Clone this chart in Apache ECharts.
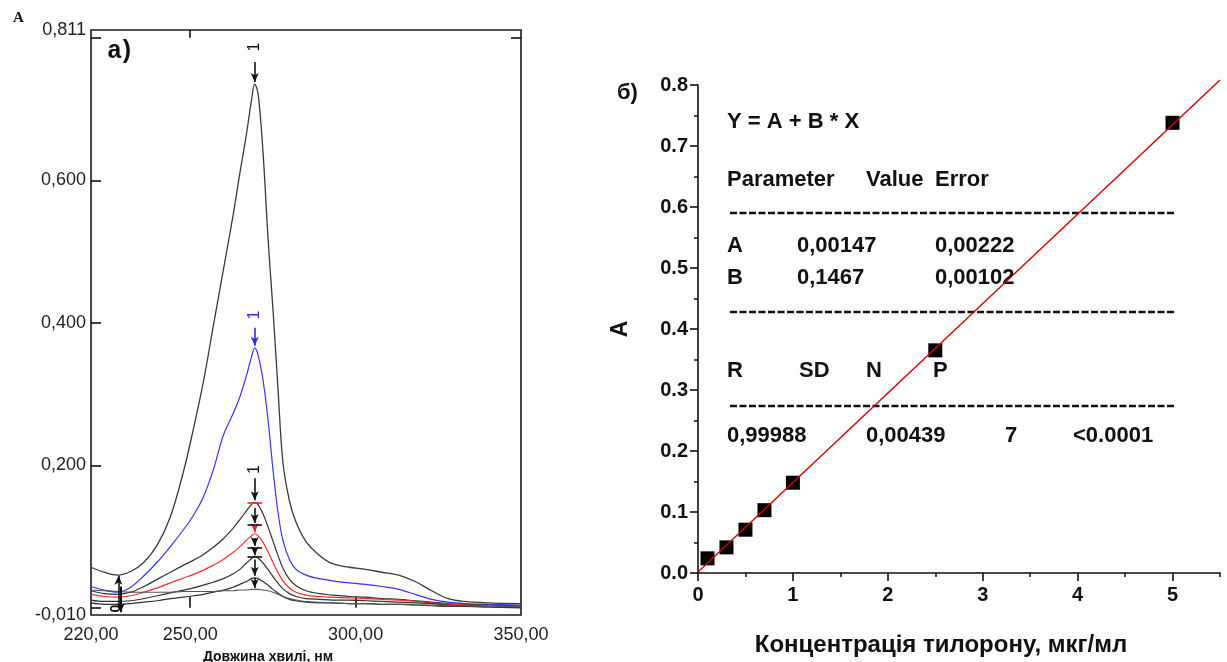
<!DOCTYPE html>
<html><head><meta charset="utf-8">
<script src="https://cdn.jsdelivr.net/npm/echarts@6/dist/echarts.min.js"></script>
<style>html,body{margin:0;padding:0;background:#fff}#c{width:1227px;height:662px}</style>
</head><body><div id="c"></div>
<script>
// ---------- Panel a) : absorption spectra ----------
const wavelengths = [220,224,228,232,236,240,244,248,251,254,257,260,263,265,267,268.5,269.5,270.5,272,273.5,275,276.5,278,280,282,285,289,293,298,303,308,313,318,323,328,333,340,350];
const absConc5_0 = [0.057,0.050,0.046,0.051,0.064,0.088,0.128,0.192,0.252,0.318,0.396,0.474,0.552,0.610,0.665,0.712,0.735,0.722,0.640,0.520,0.420,0.310,0.205,0.150,0.120,0.093,0.074,0.062,0.057,0.054,0.050,0.046,0.037,0.024,0.013,0.009,0.007,0.006];
const absConc2_5 = [0.030,0.025,0.022,0.029,0.045,0.064,0.086,0.110,0.130,0.156,0.194,0.242,0.273,0.296,0.326,0.352,0.365,0.355,0.320,0.265,0.195,0.135,0.095,0.068,0.054,0.046,0.041,0.038,0.035,0.033,0.030,0.026,0.019,0.012,0.008,0.006,0.005,0.004];
const absConc1_0 = [0.024,0.020,0.019,0.022,0.030,0.040,0.050,0.060,0.067,0.075,0.085,0.097,0.112,0.124,0.136,0.145,0.148,0.145,0.132,0.114,0.094,0.074,0.056,0.040,0.031,0.024,0.020,0.018,0.016,0.015,0.013,0.012,0.010,0.008,0.006,0.005,0.004,0.003];
const absConc0_7 = [0.019,0.016,0.015,0.017,0.022,0.028,0.035,0.042,0.047,0.053,0.060,0.068,0.078,0.086,0.095,0.101,0.104,0.101,0.092,0.079,0.064,0.050,0.038,0.028,0.022,0.018,0.016,0.015,0.014,0.013,0.012,0.011,0.009,0.007,0.005,0.004,0.003,0.002];
const absConc0_5 = [0.011,0.009,0.009,0.010,0.013,0.017,0.021,0.025,0.028,0.032,0.036,0.041,0.048,0.054,0.063,0.069,0.072,0.070,0.063,0.054,0.044,0.035,0.027,0.020,0.016,0.013,0.012,0.011,0.011,0.010,0.009,0.008,0.007,0.006,0.004,0.003,0.002,0.001];
const absConc0_3 = [0.007,0.005,0.005,0.006,0.008,0.010,0.013,0.015,0.017,0.019,0.022,0.025,0.029,0.033,0.037,0.041,0.042,0.041,0.037,0.032,0.026,0.021,0.016,0.012,0.010,0.008,0.007,0.007,0.006,0.006,0.005,0.005,0.004,0.003,0.002,0.002,0.001,0.000];
const absConc0_1 = [0.025,0.024,0.023,0.022,0.022,0.022,0.022,0.023,0.023,0.023,0.023,0.024,0.024,0.025,0.025,0.026,0.026,0.026,0.025,0.024,0.022,0.019,0.016,0.013,0.011,0.009,0.008,0.007,0.006,0.006,0.005,0.005,0.004,0.004,0.003,0.003,0.002,0.002];

const leftXLabelValues = [220, 250, 300, 350];
const leftXTickValues = [250, 300];
const leftYLabelValues = [-0.01, 0.2, 0.4, 0.6, 0.811];
const leftYTickValues = [0, 0.2, 0.4, 0.6, 0.8];

// peak markers (wavelength of maximum, arrows, "1" labels)
const peakWavelength = 269.5;
const arrowSegments = [ // [from A, to A, colour]
  [0.766, 0.738, '#111'],
  [0.393, 0.368, '#2b2bff'],
  [0.182, 0.151, '#111'],
  [0.140, 0.119, '#111'],
  [0.114, 0.106, '#ff2020'],
  [0.098, 0.087, '#111'],
  [0.082, 0.074, '#111'],
  [0.068, 0.045, '#111'],
  [0.042, 0.028, '#111']
];
const peakTicks = [[0.148, '#ff2020'], [0.116, '#111'], [0.085, '#111'], [0.072, '#111']];
const peakLabels = [[0.787, '#111'], [0.411, '#2b2bff'], [0.194, '#111']];

// ---------- Panel б) : calibration ----------
const concentrations = [0.1, 0.3, 0.5, 0.7, 1.0, 2.5, 5.0];
const absorbance = [0.024, 0.042, 0.071, 0.103, 0.148, 0.365, 0.738];
const fitX = [0, 5.5];
const fitY = [0.0015, 0.8083];
const rightXLabels = [0, 1, 2, 3, 4, 5];
const rightXMinor = [0.5, 1.5, 2.5, 3.5, 4.5, 5.5];

const SANS = '"Liberation Sans", Arial, sans-serif';
const chart = echarts.init(document.getElementById('c'));

const spectraStyles = [
  {vals: absConc5_0, color: '#3a3a3a', width: 1.3},
  {vals: absConc2_5, color: '#3535ff', width: 1.2},
  {vals: absConc1_0, color: '#333333', width: 1.2},
  {vals: absConc0_7, color: '#ff2a2a', width: 1.2},
  {vals: absConc0_5, color: '#333333', width: 1.2},
  {vals: absConc0_3, color: '#333333', width: 1.2},
  {vals: absConc0_1, color: '#555555', width: 1.1}
];

const spectraSeries = spectraStyles.map((s, idx) => ({
  type: 'line', xAxisIndex: 0, yAxisIndex: 0,
  data: wavelengths.map((w, i) => [w, s.vals[i]]),
  smooth: 0.35, showSymbol: false, symbol: 'none',
  lineStyle: {color: s.color, width: s.width}, z: 3
}));

const markLines = [];
arrowSegments.forEach(a => markLines.push([
  {coord: [peakWavelength, a[0]], symbol: 'none', lineStyle: {color: a[2], width: 1.6, type: 'solid'}},
  {coord: [peakWavelength, a[1]], symbol: 'arrow', symbolSize: [6, 9]}
]));
peakTicks.forEach(t => markLines.push([
  {coord: [peakWavelength - 2.2, t[0]], symbol: 'none', lineStyle: {color: t[1], width: 1.6, type: 'solid'}},
  {coord: [peakWavelength + 2.2, t[0]], symbol: 'none'}
]));
// arrows at the minimum near 228 nm
markLines.push([
  {coord: [228.3, 0.000], symbol: 'none', lineStyle: {color: '#111', width: 1.6, type: 'solid'}},
  {coord: [228.3, 0.045], symbol: 'arrow', symbolSize: [6, 9]}
]);
markLines.push([
  {coord: [229.0, 0.030], symbol: 'none', lineStyle: {color: '#111', width: 2, type: 'solid'}},
  {coord: [229.0, -0.006], symbol: 'arrow', symbolSize: [6, 9]}
]);
// top-frame tick
markLines.push([
  {coord: [250, 0.811], symbol: 'none', lineStyle: {color: '#111', width: 1.6, type: 'solid'}},
  {coord: [250, 0.800], symbol: 'none'}
]);

spectraSeries[0].markLine = {
  silent: true, animation: false, label: {show: false},
  data: markLines
};
spectraSeries[0].markPoint = {
  silent: true, animation: false, symbol: 'circle', symbolSize: 0,
  data: peakLabels.map(p => ({coord: [peakWavelength, p[0]],
    label: {show: true, formatter: '1', rotate: 90, color: p[1], fontSize: 16, fontFamily: SANS, position: 'inside'}}))
    .concat([{coord: [227.6, -0.001], label: {show: true, formatter: '0', rotate: 90, color: '#111', fontSize: 14, fontWeight: 'bold', fontFamily: SANS, position: 'inside'}}])
};

const T = (text, x, y, extra) => Object.assign({type: 'text', x: x, y: y,
  style: {text: text, font: 'bold 22px ' + SANS, fill: '#111', textVerticalAlign: 'middle'}}, extra || {});
const D = (y) => ({type: 'line', shape: {x1: 730, y1: y, x2: 1175, y2: y}, style: {stroke: '#111', lineWidth: 2.4, lineDash: [7, 2.5]}});

const option = {
  animation: false,
  backgroundColor: '#fff',
  grid: [
    {left: 91, top: 30, width: 430, height: 585, show: true, borderColor: '#1a1a1a', borderWidth: 1.6, backgroundColor: 'transparent'},
    {left: 698, top: 85, width: 522, height: 488}
  ],
  xAxis: [
    {type: 'value', gridIndex: 0, min: 220, max: 350, position: 'bottom',
      axisLine: {show: false}, splitLine: {show: false},
      axisTick: {show: true, inside: true, length: 11, customValues: leftXTickValues, lineStyle: {color: '#111', width: 1.6}},
      axisLabel: {customValues: leftXLabelValues, formatter: v => v.toFixed(2).replace('.', ','), fontSize: 18, color: '#222', fontFamily: SANS, margin: 11}},
    {type: 'value', gridIndex: 0, min: 220, max: 350, position: 'top',
      axisLine: {show: false}, splitLine: {show: false}, axisLabel: {show: false},
      axisTick: {show: false}},
    {type: 'value', gridIndex: 1, min: 0, max: 5.5, position: 'bottom',
      axisLine: {show: true, onZero: false, lineStyle: {color: '#111', width: 1.6}}, splitLine: {show: false},
      axisTick: {show: true, inside: false, length: 8, customValues: rightXLabels, lineStyle: {color: '#111', width: 1.6}},
      axisLabel: {customValues: rightXLabels, formatter: v => String(v), fontSize: 20, fontWeight: 'bold', color: '#111', fontFamily: SANS, margin: 12},
      name: 'Концентрація тилорону, мкг/мл', nameLocation: 'middle', nameGap: 60,
      nameTextStyle: {fontSize: 24, fontWeight: 'bold', color: '#111', fontFamily: SANS, padding: [0, 36, 0, 0]}},
    {type: 'value', gridIndex: 1, min: 0, max: 5.5, position: 'bottom',
      axisLine: {show: false}, splitLine: {show: false}, axisLabel: {show: false},
      axisTick: {show: true, inside: false, length: 4, customValues: rightXMinor, lineStyle: {color: '#111', width: 1.5}}}
  ],
  yAxis: [
    {type: 'value', gridIndex: 0, min: -0.01, max: 0.811, position: 'left',
      axisLine: {show: false}, splitLine: {show: false},
      axisTick: {show: true, inside: true, length: 10, customValues: leftYTickValues, lineStyle: {color: '#111', width: 1.6}},
      axisLabel: {customValues: leftYLabelValues, formatter: v => (Math.abs(v - 0.811) < 1e-9 ? '0,811' : v.toFixed(3).replace('.', ',')), fontSize: 18, color: '#222', fontFamily: SANS, margin: 5}},
    {type: 'value', gridIndex: 0, min: -0.01, max: 0.811, position: 'right',
      axisLine: {show: false}, splitLine: {show: false}, axisLabel: {show: false},
      axisTick: {show: true, inside: true, length: 10, customValues: [0.8], lineStyle: {color: '#111', width: 1.6}}},
    {type: 'value', gridIndex: 1, min: 0, max: 0.8, interval: 0.1, position: 'left',
      axisLine: {show: true, onZero: false, lineStyle: {color: '#111', width: 1.6}}, splitLine: {show: false},
      axisTick: {show: true, inside: false, length: 8, lineStyle: {color: '#111', width: 1.6}},
      minorTick: {show: true, splitNumber: 2, length: 4, lineStyle: {color: '#111', width: 1.5}},
      axisLabel: {formatter: v => v.toFixed(1), fontSize: 20, fontWeight: 'bold', color: '#111', fontFamily: SANS, margin: 10},
      name: 'A', nameLocation: 'middle', nameGap: 66, nameRotate: 90,
      nameTextStyle: {fontSize: 23, fontWeight: 'bold', color: '#111', fontFamily: SANS}}
  ],
  series: spectraSeries.concat([
    {type: 'scatter', xAxisIndex: 2, yAxisIndex: 2, symbol: 'rect', symbolSize: 14,
      itemStyle: {color: '#000', opacity: 1}, z: 4,
      data: concentrations.map((c, i) => [c, absorbance[i]])},
    {type: 'line', xAxisIndex: 2, yAxisIndex: 2, clip: false, showSymbol: false, symbol: 'none',
      lineStyle: {color: '#d80000', width: 1.4}, z: 5,
      data: fitX.map((x, i) => [x, fitY[i]])}
  ]),
  graphic: [
    {type: 'text', x: 13, y: 18, style: {text: 'A', font: 'bold 15px "Liberation Serif", serif', fill: '#111', textVerticalAlign: 'middle'}},
    {type: 'text', x: 107, y: 52, style: {text: 'a', font: 'bold 25px "Liberation Mono", monospace', fill: '#111', textVerticalAlign: 'middle'}},
    {type: 'text', x: 119, y: 52, style: {text: ')', font: 'bold 25px "Liberation Mono", monospace', fill: '#111', textVerticalAlign: 'middle'}},
    {type: 'text', x: 268, y: 657, style: {text: 'Довжина хвилі, нм', font: 'bold 14px ' + SANS, fill: '#111', textAlign: 'center', textVerticalAlign: 'middle'}},
    {type: 'text', x: 617, y: 93, style: {text: 'б)', font: 'bold 22px ' + SANS, fill: '#111', textVerticalAlign: 'middle'}},
    T('Y = A + B * X', 727, 122),
    T('Parameter', 727, 180), T('Value', 866, 180), T('Error', 935, 180),
    D(213),
    T('A', 727, 246), T('0,00147', 797, 246), T('0,00222', 935, 246),
    T('B', 727, 278), T('0,1467', 797, 278), T('0,00102', 935, 278),
    D(312),
    T('R', 727, 371), T('SD', 799, 371), T('N', 866, 371), T('P', 933, 371),
    D(406),
    T('0,99988', 727, 436), T('0,00439', 866, 436), T('7', 1005, 436), T('<0.0001', 1073, 436)
  ]
};
chart.setOption(option);
</script>
</body></html>
